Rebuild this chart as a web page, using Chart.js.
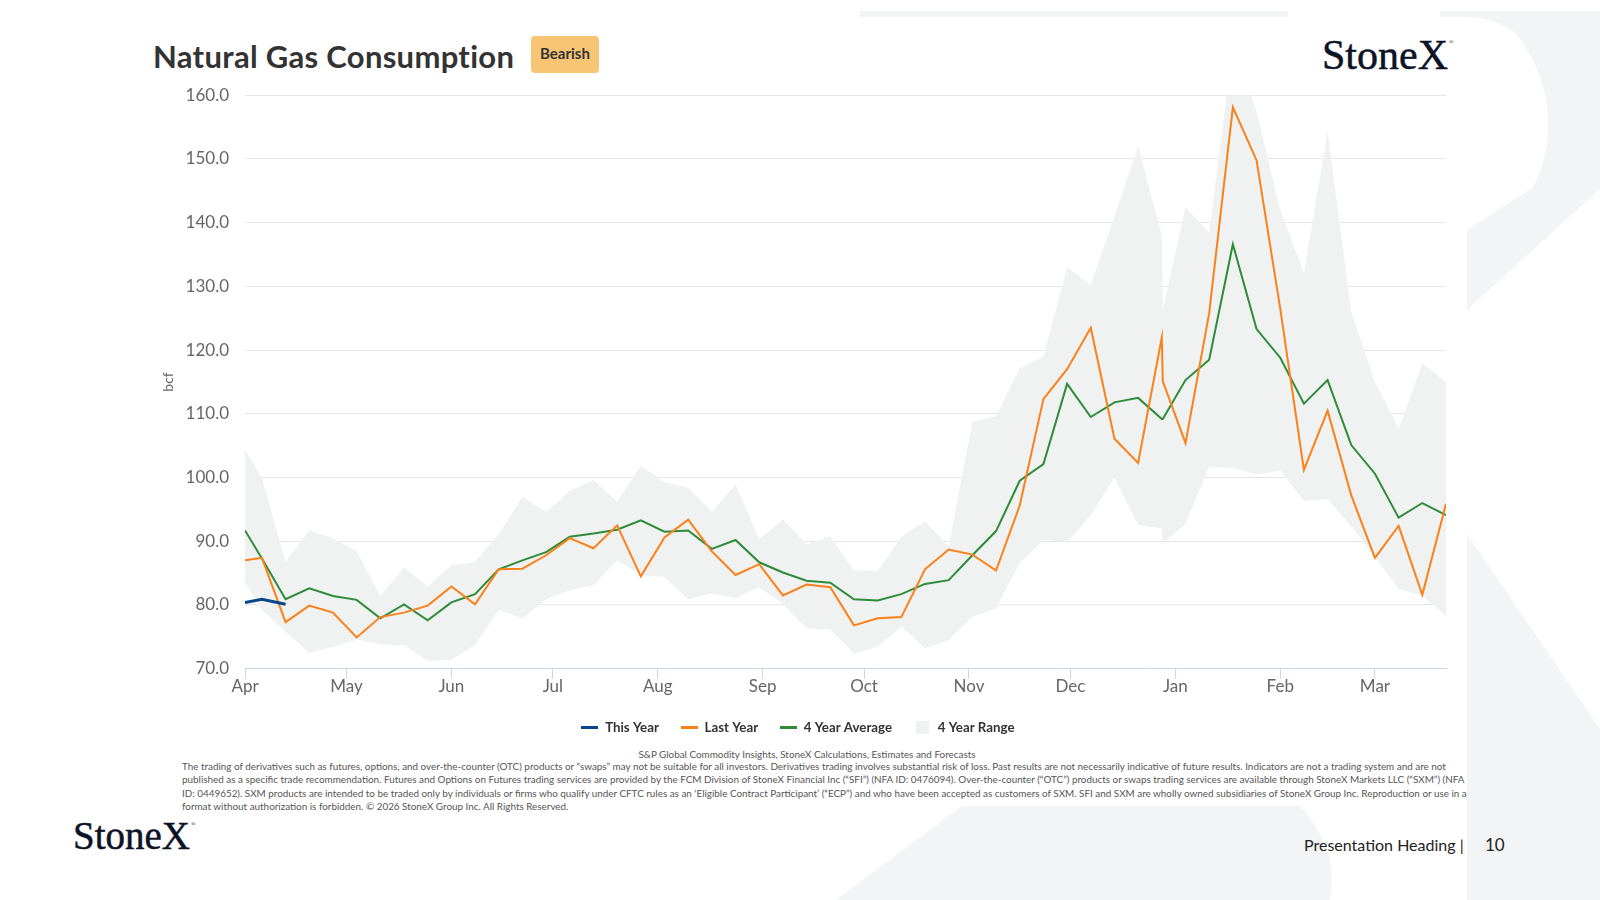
<!DOCTYPE html>
<html>
<head>
<meta charset="utf-8">
<script src="https://cdn.jsdelivr.net/npm/chart.js@4.4.1/dist/chart.umd.min.js"></script>
<style>
  html, body { margin: 0; padding: 0; background: #fff; }
  body { width: 1600px; height: 900px; position: relative; overflow: hidden; font-family: Lato, 'Noto Sans', sans-serif; }
  .abs { position: absolute; }
  #wm { left: 0; top: 0; }
  #title { left: 153px; top: 40px; font-size: 31px; letter-spacing: 0.3px; font-weight: 700; color: #333; line-height: 32px; white-space: nowrap; }
  #badge { left: 531px; top: 36px; width: 68px; height: 37px; background: #f7c574; border-radius: 4px; font-size: 15px; font-weight: 700; color: #333; text-align: center; line-height: 34px; }
  .logo { font-family: 'Liberation Serif', 'DejaVu Serif', serif; color: #0d1326; line-height: 1; white-space: nowrap; -webkit-text-stroke: 0.5px #0d1326; }
  .logo sup { font-size: 6px; vertical-align: top; position: relative; top: 5px; margin-left: 1px; -webkit-text-stroke: 0; }
  #logoTop { left: 1322px; top: 34px; font-size: 42px; }
  #logoBot { left: 73px; top: 816px; font-size: 39px; }
  #chartBox { left: 150px; top: 69px; width: 1306px; height: 675px; }
  #source { left: 182px; top: 748px; width: 1250px; text-align: center; font-size: 9.9px; color: #555; white-space: nowrap; }
  #disc { left: 182px; top: 760px; width: 1285px; overflow: hidden; font-size: 9.9px; color: #555; line-height: 13.4px; }
  #disc div { white-space: nowrap; }
  #footer { left: 1304px; top: 835px; font-size: 16px; color: #222; white-space: nowrap; line-height: 20px; }
  #pageNo { left: 1485px; top: 835px; font-size: 17px; color: #222; line-height: 20px; }
</style>
</head>
<body>
<svg id="wm" class="abs" width="1600" height="900">
  <g fill="#f3f4f5">
    <rect x="860" y="11" width="428" height="6"/>
    <path d="M1440 11 H1600 V189 L1467 310 V230 L1532 188 C1556 150 1556 80 1514 32 Q1494 18 1467 17 H1440 Z"/>
    <path d="M1467 534 L1600 729 V900 H1467 Z"/>
    <path d="M836 900 L962 806 H1300 Q1340 850 1330 900 Z"/>
  </g>
</svg>

<div id="title" class="abs">Natural Gas Consumption</div>
<div id="badge" class="abs">Bearish</div>
<div id="logoTop" class="abs logo">StoneX<sup>®</sup></div>

<div id="chartBox" class="abs"><canvas id="gasChart"></canvas></div>

<div id="source" class="abs">S&amp;P Global Commodity Insights, StoneX Calculations, Estimates and Forecasts</div>
<div id="disc" class="abs">
  <div>The trading of derivatives such as futures, options, and over-the-counter (OTC) products or “swaps” may not be suitable for all investors. Derivatives trading involves substantial risk of loss. Past results are not necessarily indicative of future results. Indicators are not a trading system and are not</div>
  <div>published as a specific trade recommendation. Futures and Options on Futures trading services are provided by the FCM Division of StoneX Financial Inc (“SFI”) (NFA ID: 0476094). Over-the-counter (“OTC”) products or swaps trading services are available through StoneX Markets LLC (“SXM”) (NFA</div>
  <div>ID: 0449652). SXM products are intended to be traded only by individuals or firms who qualify under CFTC rules as an ‘Eligible Contract Participant’ (“ECP”) and who have been accepted as customers of SXM. SFI and SXM are wholly owned subsidiaries of StoneX Group Inc. Reproduction or use in any</div>
  <div>format without authorization is forbidden. © 2026 StoneX Group Inc. All Rights Reserved.</div>
</div>

<div id="logoBot" class="abs logo">StoneX<sup>®</sup></div>
<div id="footer" class="abs">Presentation Heading |</div>
<div id="pageNo" class="abs">10</div>

<script>
// weekly observation dates (season starts Apr 1)
const weekDates = [
  '2025-04-01', '2025-04-06', '2025-04-13', '2025-04-20', '2025-04-27',
  '2025-05-04', '2025-05-11', '2025-05-18', '2025-05-25',
  '2025-06-01', '2025-06-08', '2025-06-15', '2025-06-22', '2025-06-29',
  '2025-07-06', '2025-07-13', '2025-07-20', '2025-07-27',
  '2025-08-03', '2025-08-10', '2025-08-17', '2025-08-24', '2025-08-31',
  '2025-09-07', '2025-09-14', '2025-09-21', '2025-09-28',
  '2025-10-05', '2025-10-12', '2025-10-19', '2025-10-26',
  '2025-11-02', '2025-11-09', '2025-11-16', '2025-11-23', '2025-11-30',
  '2025-12-07', '2025-12-14', '2025-12-21', '2025-12-28', '2025-12-28T07:00Z',
  '2026-01-04', '2026-01-11', '2026-01-18', '2026-01-25',
  '2026-02-01', '2026-02-08', '2026-02-15', '2026-02-22',
  '2026-03-01', '2026-03-08', '2026-03-15', '2026-03-22'
];

const thisYear = [80.4, 80.9, 80.1];

const lastYear = [
  87.0, 87.4, 77.3, 79.9, 78.8,
  74.9, 78.1, 78.8, 79.9,
  82.9, 80.1, 85.6, 85.7, 87.8,
  90.5, 88.9, 92.5, 84.5,
  90.6, 93.4, 88.4, 84.7, 86.4,
  81.5, 83.2, 82.8, 76.8,
  77.9, 78.1, 85.6, 88.7,
  87.9, 85.4, 95.6, 112.3, 117.0,
  123.5, 106.1, 102.3, 122.0, 115.1,
  105.4, 125.8, 158.1, 149.8,
  126.5, 101.2, 110.5, 97.2,
  87.4, 92.4, 81.6, 95.9
];

const avg4Year = [
  91.7, 87.3, 80.9, 82.6, 81.4,
  80.8, 77.9, 80.1, 77.6,
  80.4, 81.7, 85.6, 87.0, 88.3,
  90.7, 91.2, 91.8, 93.3,
  91.5, 91.7, 88.8, 90.2, 86.7,
  85.1, 83.8, 83.5, 80.9,
  80.7, 81.7, 83.3, 83.9,
  87.8, 91.6, 99.5, 102.1, 114.7,
  109.5, 111.8, 112.5, 109.2, 109.2,
  115.3, 118.5, 136.6, 123.3,
  118.8, 111.6, 115.3, 105.1,
  100.6, 93.7, 96.0, 94.1
];

const rangeHigh = [
  104.4, 99.9, 86.8, 91.7, 90.5,
  88.4, 81.4, 85.9, 82.9,
  86.2, 86.8, 91.1, 97.0, 94.6,
  97.9, 99.6, 96.2, 101.8,
  99.3, 98.4, 94.6, 98.9, 90.3,
  93.4, 89.5, 90.8, 85.4,
  85.3, 90.7, 93.1, 89.2,
  108.7, 109.6, 117.1, 119.0, 133.0,
  130.2, 141.0, 152.0, 138.0, 126.3,
  142.4, 138.4, 167.8, 157.5,
  142.0, 132.1, 154.3, 126.0,
  115.0, 107.7, 117.9, 115.0
];

const rangeLow = [
  83.6, 79.2, 75.8, 72.5, 73.4,
  74.6, 73.8, 73.7, 71.2,
  71.4, 73.7, 79.2, 77.9, 80.9,
  82.3, 83.1, 87.0, 84.7,
  84.4, 80.9, 81.8, 81.1, 82.8,
  80.2, 76.3, 76.2, 72.4,
  73.4, 76.6, 73.2, 74.5,
  78.1, 79.5, 86.6, 90.2, 89.9,
  94.1, 100.0, 92.6, 92.0, 89.6,
  92.7, 101.7, 101.5, 100.5,
  101.1, 96.3, 96.6, 92.3,
  87.5, 82.5, 81.5, 78.3
];

const monthStarts = ['2025-04-01', '2025-05-01', '2025-06-01', '2025-07-01', '2025-08-01', '2025-09-01',
  '2025-10-01', '2025-11-01', '2025-12-01', '2026-01-01', '2026-02-01', '2026-03-01'];
const monthLabels = ['Apr', 'May', 'Jun', 'Jul', 'Aug', 'Sep', 'Oct', 'Nov', 'Dec', 'Jan', 'Feb', 'Mar'];

const C_THIS = '#0a468c';
const C_LAST = '#fb8019';
const C_AVG = '#2e8b3a';
const C_RANGE = '#f0f1f1';

const base = Date.parse(weekDates[0]);
const dayOf = s => (Date.parse(s) - base) / 864e5;
const toPoints = vals => vals.map((v, i) => ({ x: dayOf(weekDates[i]), y: v }));

function marker(w, h, color) {
  const c = document.createElement('canvas');
  c.width = w; c.height = h;
  const g = c.getContext('2d');
  g.fillStyle = color;
  g.fillRect(0, 0, w, h);
  return c;
}
const legendMarks = [marker(17, 3, C_THIS), marker(17, 3, C_LAST), marker(17, 3, C_AVG), marker(13, 13, C_RANGE)];

const tickFont = { family: 'Lato', size: 17 };

new Chart(document.getElementById('gasChart'), {
  type: 'line',
  data: {
    datasets: [
      { label: 'This Year', data: toPoints(thisYear), borderColor: C_THIS, borderWidth: 3 },
      { label: 'Last Year', data: toPoints(lastYear), borderColor: C_LAST, borderWidth: 2 },
      { label: '4 Year Average', data: toPoints(avg4Year), borderColor: C_AVG, borderWidth: 2 },
      { label: '4 Year Range', data: toPoints(rangeHigh), borderWidth: 0, borderColor: C_RANGE, backgroundColor: C_RANGE, fill: '+1' },
      { label: '', data: toPoints(rangeLow), borderWidth: 0, borderColor: C_RANGE, fill: false }
    ]
  },
  options: {
    responsive: true,
    maintainAspectRatio: false,
    animation: false,
    layout: { padding: { top: 11, right: 10, left: 0, bottom: 0 } },
    elements: { point: { radius: 0, hoverRadius: 0 }, line: { tension: 0 } },
    plugins: {
      tooltip: { enabled: false },
      legend: {
        position: 'bottom',
        labels: {
          usePointStyle: true,
          pointStyleWidth: 17,
          boxHeight: 13,
          padding: 22,
          color: '#333',
          font: { family: 'Lato', size: 13.3, weight: 'bold' },
          filter: item => item.text !== '',
          generateLabels: chart => Chart.defaults.plugins.legend.labels.generateLabels(chart)
            .map(item => Object.assign(item, { pointStyle: legendMarks[item.datasetIndex] }))
        }
      }
    },
    scales: {
      x: {
        type: 'linear',
        min: 0,
        max: dayOf(weekDates[weekDates.length - 1]),
        afterBuildTicks: scale => { scale.ticks = monthStarts.map(d => ({ value: dayOf(d) })); },
        afterFit: scale => { scale.height = 30; },
        ticks: {
          autoSkip: false,
          maxRotation: 0,
          padding: -2,
          color: '#666',
          font: tickFont,
          callback: (value, index) => monthLabels[index]
        },
        grid: { drawOnChartArea: false, tickLength: 10, color: '#ccd6eb' },
        border: { color: '#ccd6eb' }
      },
      y: {
        min: 70,
        max: 160,
        afterFit: scale => { scale.width = 95; },
        ticks: {
          stepSize: 10,
          padding: 16,
          color: '#666',
          font: tickFont,
          callback: v => v.toFixed(1)
        },
        grid: { color: '#e6e6e6', drawTicks: false },
        border: { display: false },
        title: { display: true, text: 'bcf', color: '#666', font: { family: 'Lato', size: 14 }, padding: { top: 10, bottom: 0 } }
      }
    }
  }
});
</script>
</body>
</html>
